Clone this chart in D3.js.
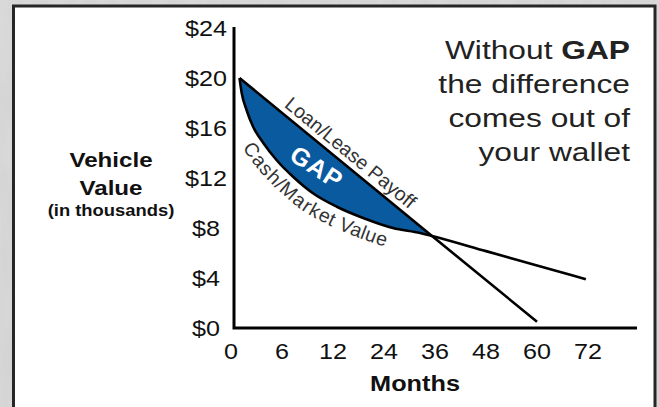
<!DOCTYPE html>
<html>
<head>
<meta charset="utf-8">
<script src="https://cdn.jsdelivr.net/npm/d3@7"></script>
<style>
  html, body { margin: 0; padding: 0; background: #cbcbcb; }
  svg { display: block; }
  text { font-family: "Liberation Sans", Arial, Helvetica, sans-serif; }
</style>
</head>
<body>
<svg id="chart" width="659" height="407"></svg>
<script>
// ---------- data ----------
const valueTicks = [0, 4, 8, 12, 16, 20, 24];          // $ thousands
const monthTicks = [0, 6, 12, 24, 36, 48, 60, 72];     // months
const payoffMonths = [1, 35.3, 60];
const payoffValues = [20, 7.36, 0.5];
const marketMonths = [1, 1.26, 1.85, 2.6, 3.8, 5.4, 7.3, 9.6, 12.9, 19.1, 26.1, 32.5, 35.3, 48, 60, 71.5];
const marketValues = [20, 18.8, 17.4, 16.1, 14.8, 13.4, 12.1, 10.8, 9.7, 8.8, 8.0, 7.6, 7.36, 6.15, 5.0, 3.9];
const gapEndMonth = 35.3;
const yTitle = ["Vehicle", "Value", "(in thousands)"];
const xTitle = "Months";
const noteLines = [["Without ", "GAP"], ["the difference"], ["comes out of"], ["your wallet"]];
const payoffLabel = "Loan/Lease Payoff";
const marketLabel = "Cash/Market Value";
const gapLabel = "GAP";

// ---------- layout ----------
const svg = d3.select("#chart");
const W = 659, H = 407;
const SX = 1.17; // horizontal text stretch seen in the picture

const payoff = payoffMonths.map((m, i) => ({ m, v: payoffValues[i] }));
const market = marketMonths.map((m, i) => ({ m, v: marketValues[i] }));

const x0 = 231, step = 51;
const x = d3.scaleLinear().domain(monthTicks).range(monthTicks.map((d, i) => x0 + i * step));
const y = d3.scaleLinear().domain([0, 24]).range([328, 28]);
const axisX = 234, axisEnd = x(72) + 49;

// background texture
const defs = svg.append("defs");
const f = defs.append("filter").attr("id", "marble").attr("x", 0).attr("y", 0).attr("width", "100%").attr("height", "100%");
f.append("feTurbulence").attr("type", "fractalNoise").attr("baseFrequency", "0.06 0.012").attr("numOctaves", 3).attr("seed", 4).attr("result", "n");
f.append("feColorMatrix").attr("type", "matrix")
  .attr("values", "0 0 0 0 0.82  0 0 0 0 0.82  0 0 0 0 0.82  0.9 0 0 0 -0.2")
  .attr("in", "n");
svg.append("rect").attr("width", W).attr("height", H).attr("fill", "#cfcfcf");
svg.append("rect").attr("width", W).attr("height", H).attr("filter", "url(#marble)").attr("opacity", 0.6);
svg.append("rect").attr("width", W).attr("height", H).attr("fill", "#e4e4e4").attr("opacity", 0.25);

// white panel
svg.append("rect").attr("x", 13.5).attr("y", 6).attr("width", 641.5).attr("height", 430)
  .attr("fill", "#fff").attr("stroke", "#262626").attr("stroke-width", 3);

// GAP fill: market curve up to the crossing, closed by the straight payoff line
const curve = d3.line().x(d => x(d.m)).y(d => y(d.v)).curve(d3.curveMonotoneX);
const straight = d3.line().x(d => x(d.m)).y(d => y(d.v));
svg.append("path")
  .attr("d", curve(market.filter(d => d.m <= gapEndMonth)) + "Z")
  .attr("fill", "#0a5a9f");

// lines
svg.append("path").attr("id", "payoffPath").attr("d", straight(payoff))
  .attr("fill", "none").attr("stroke", "#000").attr("stroke-width", 2.6);
svg.append("path").attr("id", "marketPath").attr("d", curve(market))
  .attr("fill", "none").attr("stroke", "#000").attr("stroke-width", 2.6);

// axes lines
svg.append("path")
  .attr("d", `M${axisX},${y(24) - 1}V${y(0)}H${axisEnd}`)
  .attr("fill", "none").attr("stroke", "#000").attr("stroke-width", 3);

// y tick labels (centered)
svg.append("g").selectAll("text").data(valueTicks).join("text")
  .attr("transform", d => `translate(206,${y(d) + 8}) scale(${SX},1)`)
  .attr("text-anchor", "middle").attr("font-size", 21.5).attr("fill", "#111")
  .text(d => "$" + d);

// x tick labels
svg.append("g").selectAll("text").data(monthTicks).join("text")
  .attr("transform", d => `translate(${x(d)},359) scale(${SX},1)`)
  .attr("text-anchor", "middle").attr("font-size", 21.5).attr("fill", "#111")
  .text(d => d);

// axis titles
svg.append("text").attr("transform", `translate(415,391) scale(1.15,1)`)
  .attr("text-anchor", "middle").attr("font-size", 22).attr("font-weight", "bold").attr("fill", "#111")
  .text(xTitle);
const yt = [[167, 21], [195, 21], [216, 16]];
yTitle.forEach((t, i) => {
  svg.append("text").attr("transform", `translate(111,${yt[i][0]}) scale(1.15,1)`)
    .attr("text-anchor", "middle").attr("font-size", yt[i][1]).attr("font-weight", "bold").attr("fill", "#111")
    .text(t);
});

// note block
noteLines.forEach((parts, i) => {
  const t = svg.append("text").attr("transform", `translate(630,${59 + i * 34}) scale(1.22,1)`)
    .attr("text-anchor", "end").attr("font-size", 26).attr("fill", "#222");
  parts.forEach((p, j) => t.append("tspan").attr("font-weight", j === 1 ? "bold" : "normal").text(p));
});

// curve labels
svg.append("text").attr("font-size", 19.5).attr("fill", "#333").attr("dy", -6)
  .append("textPath").attr("href", "#payoffPath").attr("startOffset", 52).text(payoffLabel);
svg.append("text").attr("font-size", 19.5).attr("fill", "#333").attr("dy", 20)
  .append("textPath").attr("href", "#marketPath").attr("startOffset", 62).text(marketLabel);

// GAP label
svg.append("text").attr("transform", "translate(317,167) rotate(33)")
  .attr("text-anchor", "middle").attr("dy", "0.36em")
  .attr("font-family", "'DejaVu Sans', sans-serif")
  .attr("font-size", 25).attr("font-weight", "bold").attr("letter-spacing", 1)
  .attr("fill", "#fff").text(gapLabel);
</script>
</body>
</html>
